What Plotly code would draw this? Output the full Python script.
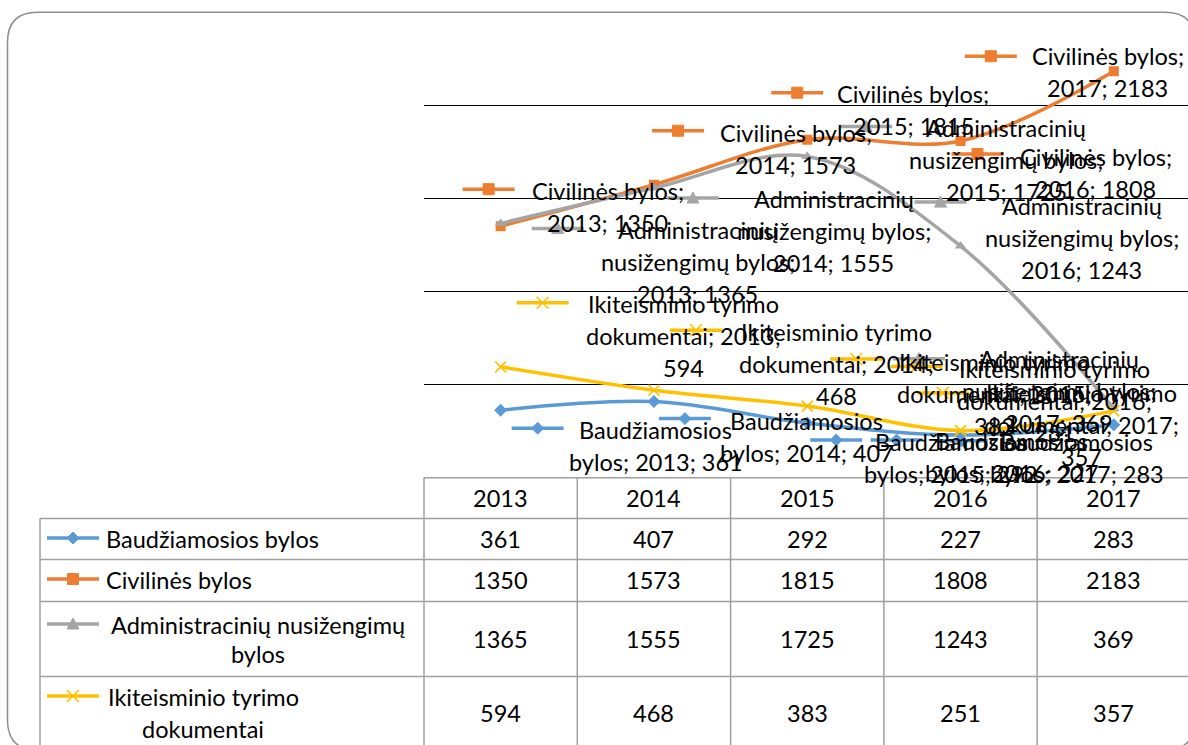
import plotly.graph_objects as go

W, H = 1188, 745
FONT = "Lato, Carlito, Calibri, sans-serif"
FS = 23.5
TXT = "#000000"

# ---------------- data ----------------
years = ["2013", "2014", "2015", "2016", "2017"]
names = ["Baudžiamosios bylos", "Civilinės bylos",
         "Administracinių nusižengimų bylos", "Ikiteisminio tyrimo dokumentai"]
baudz = [361, 407, 292, 227, 283]
civil = [1350, 1573, 1815, 1808, 2183]
admin = [1365, 1555, 1725, 1243, 369]
ikit = [594, 468, 383, 251, 357]
values = [baudz, civil, admin, ikit]

colors = ["#5B9BD5", "#ED7D31", "#A5A5A5", "#FFC000"]
symbols = ["diamond", "square", "triangle-up", "x-thin"]

table_row_lines = [["Baudžiamosios bylos"], ["Civilinės bylos"],
                   ["Administracinių nusižengimų", "bylos"],
                   ["Ikiteisminio tyrimo", "dokumentai"]]

label_templates = [
    ["Baudžiamosios", "bylos; {y}; {v}"],
    ["Civilinės bylos;", "{y}; {v}"],
    ["Administracinių", "nusižengimų bylos;", "{y}; {v}"],
    ["Ikiteisminio tyrimo", "dokumentai; {y};", "{v}"],
]

# label placement: (text dx, line1 dy, key dx, key dy) in pixels from the point
label_offsets = [
    [(155, 20, 37, 18), (153, 19, 31, 17), (144, 19, 29, 17), (51, 6, -64, 5), (-37, 17, -152, 16)],
    [(107, -35, -12, -37), (142, -52, 24, -54), (106, -46, -10, -47), (135, 16, 17, 13), (-6, -15, -123, -15)],
    [(197, 7, 57, 5), (180, 11, 39, 10), (199, -28, 59, -30), (121, -40, -20, -44), (-55, -50, -195, -50)],
    [(183, -63, 42, -64), (183, -58, 42, -60), (187, -44, 49, -47), (94, -62, -44, -64), (-32, -18, -171, -18)],
]
LINE_GAP = 32

# ---------------- geometry helpers ----------------
def PX(x):
    return x / W

def PY(y):
    return 1 - y / H

X_LEFT, X_RIGHT = 424, 1188
Y_ZERO, Y_TOP = 477.3, 12.3
XR = [-0.5, 4.484]
col_w = (X_RIGHT - X_LEFT) / (XR[1] - XR[0])

fig = go.Figure()

xs = list(range(len(years)))
for s in range(4):
    mk = dict(symbol=symbols[s], size=10, color=colors[s])
    if s == 3:
        mk = dict(symbol="x-thin", size=11, line=dict(color=colors[s], width=1.6))
    fig.add_trace(go.Scatter(
        x=xs, y=values[s], mode="lines+markers", name=names[s],
        line=dict(color=colors[s], width=3.5, shape="spline", smoothing=1.0),
        marker=mk, showlegend=False, hoverinfo="skip"))

shapes = []
annotations = []


def key_shapes(s, xref, yref, xa, ya, cx, cy):
    c = colors[s]
    Y = -cy
    common = dict(xref=xref, yref=yref, xsizemode="pixel", ysizemode="pixel",
                  xanchor=xa, yanchor=ya, layer="above")
    out = [dict(type="line", x0=cx - 26, x1=cx + 26, y0=Y, y1=Y,
                line=dict(color=c, width=3.5), **common)]
    if s == 0:
        p = f"M{cx},{Y+6} L{cx+6},{Y} L{cx},{Y-6} L{cx-6},{Y} Z"
        out.append(dict(type="path", path=p, fillcolor=c, line=dict(color=c, width=1), **common))
    elif s == 1:
        out.append(dict(type="rect", x0=cx - 5.5, x1=cx + 5.5, y0=Y - 5.5, y1=Y + 5.5,
                        fillcolor=c, line=dict(color=c, width=1), **common))
    elif s == 2:
        p = f"M{cx-6},{Y-5} L{cx+6},{Y-5} L{cx},{Y+6} Z"
        out.append(dict(type="path", path=p, fillcolor=c, line=dict(color=c, width=1), **common))
    else:
        p = f"M{cx-6},{Y-6} L{cx+6},{Y+6} M{cx-6},{Y+6} L{cx+6},{Y-6}"
        out.append(dict(type="path", path=p, line=dict(color=c, width=1.5), **common))
    return out


# data labels with legend keys
for s in range(4):
    for i in range(len(years)):
        v = values[s][i]
        dx, dy, kdx, kdy = label_offsets[s][i]
        lines = [t.format(y=years[i], v=v) for t in label_templates[s]]
        for j, ln in enumerate(lines):
            annotations.append(dict(
                x=i, y=v, xref="x", yref="y", text=ln, showarrow=False,
                xanchor="center", yanchor="middle",
                xshift=dx, yshift=-(dy + j * LINE_GAP),
                font=dict(family=FONT, size=FS, color=TXT)))
        shapes += key_shapes(s, "x", "y", i, v, kdx, kdy)

# ---------------- data table ----------------
GRID = "#A0A0A0"
row_edges = [518.5, 559.5, 601.5, 676.5, 760]
header_top = 477.8
col_edges = [X_LEFT + k * col_w for k in range(len(years) + 1)]


def hline(x0, x1, y, color=GRID, w=1.5):
    shapes.append(dict(type="line", xref="paper", yref="paper",
                       x0=PX(x0), x1=PX(x1), y0=PY(y), y1=PY(y),
                       line=dict(color=color, width=w), layer="above"))


def vline(x, y0, y1, color=GRID, w=1.5):
    shapes.append(dict(type="line", xref="paper", yref="paper",
                       x0=PX(x), x1=PX(x), y0=PY(y0), y1=PY(y1),
                       line=dict(color=color, width=w), layer="above"))


hline(X_LEFT, W + 5, header_top)
for y in row_edges[:-1]:
    hline(40, W + 5, y)
vline(40, row_edges[0], H + 5)
for k in range(len(years)):
    vline(col_edges[k], header_top, H + 5)

# header years
for i, yr in enumerate(years):
    annotations.append(dict(x=i, y=PY(498), xref="x", yref="paper", text=yr,
                            showarrow=False, xanchor="center", yanchor="middle",
                            font=dict(family=FONT, size=FS, color=TXT)))

row_value_y = [539, 580, 639, 713]
for s in range(4):
    for i in range(len(years)):
        annotations.append(dict(x=i, y=PY(row_value_y[s]), xref="x", yref="paper",
                                text=str(values[s][i]), showarrow=False,
                                xanchor="center", yanchor="middle",
                                font=dict(family=FONT, size=FS, color=TXT)))

# row labels with keys
row_label_y = [539, 580, 625, 697]
row_line_gap = [0, 0, 29, 32]
row_text_cx = [None, None, 258, 203]
for s in range(4):
    lines = table_row_lines[s]
    if len(lines) == 1:
        annotations.append(dict(x=PX(104), y=PY(row_label_y[s]), xref="paper", yref="paper",
                                text=lines[0], showarrow=False, xanchor="left", yanchor="middle",
                                font=dict(family=FONT, size=FS, color=TXT)))
    else:
        for j, ln in enumerate(lines):
            annotations.append(dict(x=PX(row_text_cx[s]), y=PY(row_label_y[s] + j * row_line_gap[s]),
                                    xref="paper", yref="paper", text=ln, showarrow=False,
                                    xanchor="center", yanchor="middle",
                                    font=dict(family=FONT, size=FS, color=TXT)))
    shapes += key_shapes(s, "paper", "paper", PX(73), PY(row_label_y[s] - 1), 0, 0)

# chart outer rounded border (partly outside the visible frame)
L, T, R, B, r = 7.5, 12.3, 1195, 750, 30
pts = (f"M{PX(L+r)},{PY(T)} L{PX(R-r)},{PY(T)} Q{PX(R)},{PY(T)} {PX(R)},{PY(T+r)} "
       f"L{PX(R)},{PY(B-r)} Q{PX(R)},{PY(B)} {PX(R-r)},{PY(B)} L{PX(L+r)},{PY(B)} "
       f"Q{PX(L)},{PY(B)} {PX(L)},{PY(B-r)} L{PX(L)},{PY(T+r)} Q{PX(L)},{PY(T)} {PX(L+r)},{PY(T)} Z")
shapes.append(dict(type="path", xref="paper", yref="paper", path=pts,
                   line=dict(color="#8C8C8C", width=1.5), fillcolor="rgba(0,0,0,0)",
                   layer="above"))

fig.update_layout(
    width=W, height=H,
    margin=dict(l=0, r=0, t=0, b=0),
    paper_bgcolor="white", plot_bgcolor="white",
    showlegend=False,
    font=dict(family=FONT, size=FS, color=TXT),
    xaxis=dict(domain=[PX(X_LEFT), 1.0], range=XR, showgrid=False, zeroline=False,
               showline=False, showticklabels=False, ticks="", fixedrange=True),
    yaxis=dict(domain=[PY(Y_ZERO), PY(Y_TOP)], range=[0, 2500],
               tickvals=[500, 1000, 1500, 2000], showgrid=True, gridcolor="#000000",
               gridwidth=1, zeroline=False, showline=False, showticklabels=False,
               ticks="", fixedrange=True),
    shapes=shapes,
    annotations=annotations,
)

fig.write_html("out.html", config={"displayModeBar": False},
               post_script="document.body.style.margin='0';document.body.style.padding='0';document.body.style.overflow='hidden';")
